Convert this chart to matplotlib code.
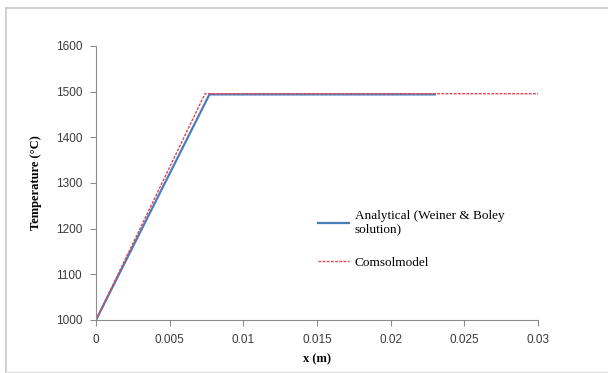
import matplotlib
matplotlib.use("Agg")
import matplotlib.pyplot as plt
from matplotlib.lines import Line2D

# data
x_analytical = [0, 0.0077, 0.023]
t_analytical = [1000, 1494, 1494]
x_comsol = [0, 0.0074, 0.03]
t_comsol = [1000, 1495.5, 1495.5]

xticks = [0, 0.005, 0.01, 0.015, 0.02, 0.025, 0.03]
xtick_labels = ["0", "0.005", "0.01", "0.015", "0.02", "0.025", "0.03"]
yticks = [1000, 1100, 1200, 1300, 1400, 1500, 1600]

W, H = 608, 373
fig = plt.figure(figsize=(W / 100, H / 100), dpi=100)
ax = fig.add_axes([96 / W, 1 - 320 / H, (538 - 96) / W, (320 - 46) / H])

ax.plot(x_analytical, t_analytical, color="#4a7ebb", lw=1.6,
        label="Analytical (Weiner & Boley\nsolution)")
ax.plot(x_comsol, t_comsol, color="#e8414a", lw=1.0, ls=(0, (2, 1)),
        label="Comsolmodel")

ax.set_xlim(0, 0.03)
ax.set_ylim(1000, 1600)
ax.set_xticks(xticks)
ax.set_xticklabels(xtick_labels)
ax.set_yticks(yticks)

for s in ["top", "right"]:
    ax.spines[s].set_visible(False)
for s in ["left", "bottom"]:
    ax.spines[s].set_color("#8c8c8c")
ax.tick_params(direction="out", length=4, color="#8c8c8c",
               labelsize=8.5, labelcolor="#3a3a3a", pad=6)
for lab in ax.get_xticklabels() + ax.get_yticklabels():
    lab.set_family("Liberation Sans")

ax.set_xlabel("x (m)", family="Liberation Serif", fontweight="bold",
              fontsize=9, labelpad=5)
ax.set_ylabel("Temperature (°C)", family="Liberation Serif",
              fontweight="bold", fontsize=9, labelpad=10)

ax.legend(loc="upper left", bbox_to_anchor=(0.475, 0.445), frameon=False,
          prop={"family": "Liberation Serif", "size": 9.5},
          handlelength=2.4, handletextpad=0.4, labelspacing=1.6)

# outer chart frame
fc = "#c8c8c8"
fig.add_artist(Line2D([6 / W, 6 / W], [1 - 372 / H, 1 - 8 / H], color=fc, lw=1.2,
                      transform=fig.transFigure))
fig.add_artist(Line2D([6 / W, 1], [1 - 8 / H, 1 - 8 / H], color=fc, lw=1.2,
                      transform=fig.transFigure))
fig.add_artist(Line2D([6 / W, 1], [1 - 372 / H, 1 - 372 / H], color="#e0e0e0",
                      lw=1.0, transform=fig.transFigure))

fig.savefig("out.png", dpi=100)
